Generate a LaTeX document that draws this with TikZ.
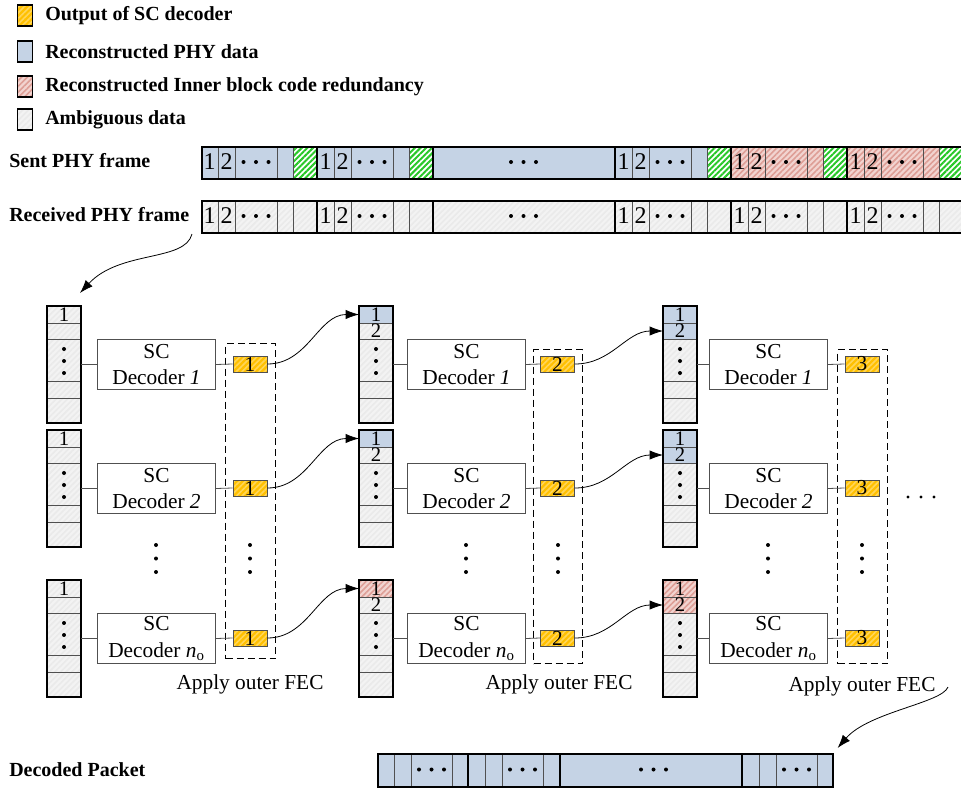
\documentclass[tikz,border=0pt]{standalone}
\usepackage{fontspec}
\setmainfont{Liberation Serif}
\usetikzlibrary{arrows.meta,patterns.meta}
\definecolor{cblue}{RGB}{197,211,229}
\definecolor{cgreen}{RGB}{40,200,40}
\definecolor{credA}{RGB}{242,212,208}
\definecolor{credB}{RGB}{222,158,150}
\definecolor{corA}{RGB}{255,192,0}
\definecolor{corB}{RGB}{255,214,90}
\definecolor{cgrA}{RGB}{243,243,243}
\definecolor{cgrB}{RGB}{234,234,234}
\definecolor{cline}{RGB}{80,80,80}
\tikzset{
  hatch/.style 2 args={preaction={fill=#1}, pattern={Lines[angle=45,distance=3pt,line width=1.2pt]}, pattern color=#2},
  fblue/.style={fill=cblue},
  fgreen/.style={preaction={fill=white}, pattern={Lines[angle=45,distance=3pt,line width=1.5pt]}, pattern color=cgreen},
  fred/.style={hatch={credA}{credB}},
  forange/.style={hatch={corA}{corB}},
  fgray/.style={hatch={cgrA}{cgrB}},
  thinln/.style={draw=cline, line width=0.6pt},
  thickln/.style={draw=black, line width=1.2pt},
  lab/.style={font=\fontsize{15}{18}\selectfont\bfseries, inner sep=0, anchor=west},
  txt/.style={font=\fontsize{16}{20}\selectfont, inner sep=0},
  fnum/.style={font=\fontsize{18}{18}\selectfont, inner sep=0},
  snum/.style={font=\fontsize{15.5}{15.5}\selectfont, inner sep=0},
  legbox/.style={draw=black, line width=1pt, minimum width=11.25pt, minimum height=15.75pt, inner sep=0},
  scell/.style={draw=cline, line width=0.6pt, minimum width=25.5pt, inner sep=0, outer sep=0, anchor=north west},
  deco/.style={draw=cline, line width=0.75pt, minimum width=88.5pt, minimum height=37.5pt, inner sep=0, anchor=north west, align=center, font=\fontsize{16}{20}\selectfont},
  ocell/.style={forange, draw=cline, line width=0.6pt, minimum width=25.5pt, minimum height=12pt, inner sep=0, font=\fontsize{16}{16}\selectfont},
  dbox/.style={draw=black, dash pattern=on 5.25pt off 3pt, line width=0.8pt, minimum width=37.5pt, inner sep=0, anchor=north west},
  conn/.style={draw=cline, line width=0.6pt},
  arr/.style={-{Latex[length=10pt,width=7pt]}, line width=0.6pt},
  dot/.style={fill=black},
}
\newcommand\phygrp[6]{%
  \path[#4] (#1,#2) rectangle (#1+92,#3);
  \path[#5] (#1+92,#2) rectangle (#1+116,#3);
  \foreach \o in {17,34,76,92} {\draw[thinln] (#1+\o,#2) -- (#1+\o,#3);}
  \node[fnum] (#6a) at (#1+8.5,{(#2+#3)/2}) {1};
  \node[fnum] (#6b) at (#1+25.5,{(#2+#3)/2}) {2};
  \foreach \d in {42.5,55,67.5} {\fill[dot] (#1+\d,{(#2+#3)/2}) circle[radius=1.5pt];}
}
\newcommand\pktgrp[1]{%
  \path[fblue] (#1,753) rectangle (#1+91,786);
  \foreach \o in {17,34,75} {\draw[thinln] (#1+\o,753) -- (#1+\o,786);}
  \foreach \d in {42,54.5,67} {\fill[dot] (#1+\d,769.5) circle[radius=1.5pt];}
}
\newcommand\mkstack[6]{%
  \node[scell,#4,minimum height=12.75pt] (#1a) at (#2,#3) {};
  \node[scell,#5,minimum height=12pt] (#1b) at (#2,#3+17) {};
  \node[scell,fgray,minimum height=31.5pt] (#1c) at (#2,#3+33) {};
  \node[scell,fgray,minimum height=12.75pt] (#1d) at (#2,#3+75) {};
  \node[scell,fgray,minimum height=18.75pt] (#1e) at (#2,#3+92) {};
  \draw[thickln] (#1a.north west) rectangle (#1e.south east);
  \node[snum] (#1ta) at (#1a.center) {1};
  \node[snum] (#1tb) at (#1b.center) {#6};
  \foreach \d in {43,55,67} {\fill[dot] (#2+17,#3+\d) circle[radius=1.5pt];}
}
\begin{document}
\begin{tikzpicture}[x=0.75pt,y=-0.75pt]
\useasboundingbox (0,0) rectangle (961,789);

% legend
\node[legbox,forange] (lg1) at (25,15.5) {};
\node[legbox,fblue]   (lg2) at (25,51.5) {};
\node[legbox,fred]    (lg3) at (25,86.5) {};
\node[legbox,fgray]   (lg4) at (25,119.5) {};
\node[lab] (lt1) at (45,15.5) {Output of SC decoder};
\node[lab] (lt2) at (45,51.5) {Reconstructed PHY data};
\node[lab] (lt3) at (45,86.5) {Reconstructed Inner block code redundancy};
\node[lab] (lt4) at (45,119.5) {Ambiguous data};

% row labels
\node[lab] (lsent) at (9,161) {Sent PHY frame};
\node[lab] (lrecv) at (9,215) {Received PHY frame};
\node[lab] (ldec)  at (9,770) {Decoded Packet};

% sent frame
\phygrp{201}{146}{178}{fblue}{fgreen}{sA}
\phygrp{317}{146}{178}{fblue}{fgreen}{sB}
\path[fblue] (433,146) rectangle (615,178);
\foreach \d in {511,523.5,536} {\fill[dot] (\d,162) circle[radius=1.5pt];}
\phygrp{615}{146}{178}{fblue}{fgreen}{sC}
\phygrp{731}{146}{178}{fred}{fgreen}{sD}
\phygrp{847}{146}{178}{fred}{fgreen}{sE}
\node[thickln, draw, minimum width=571.5pt, minimum height=24pt, inner sep=0, anchor=north west] (sf) at (201,146) {};
\foreach \x in {317,433,615,731,847} {\draw[thickln] (\x,146) -- (\x,178);}

% received frame
\phygrp{201}{200}{232}{fgray}{fgray}{rA}
\phygrp{317}{200}{232}{fgray}{fgray}{rB}
\path[fgray] (433,200) rectangle (615,232);
\foreach \d in {511,523.5,536} {\fill[dot] (\d,216) circle[radius=1.5pt];}
\phygrp{615}{200}{232}{fgray}{fgray}{rC}
\phygrp{731}{200}{232}{fgray}{fgray}{rD}
\phygrp{847}{200}{232}{fgray}{fgray}{rE}
\node[thickln, draw, minimum width=571.5pt, minimum height=24pt, inner sep=0, anchor=north west] (rf) at (201,200) {};
\foreach \x in {317,433,615,731,847} {\draw[thickln] (\x,200) -- (\x,232);}

% stacks
\mkstack{s11}{47}{306}{fgray}{fgray}{}
\mkstack{s12}{47}{430}{fgray}{fgray}{}
\mkstack{s13}{47}{580}{fgray}{fgray}{}
\mkstack{s21}{359}{306}{fblue}{fgray}{2}
\mkstack{s22}{359}{430}{fblue}{fgray}{2}
\mkstack{s23}{359}{580}{fred}{fgray}{2}
\mkstack{s31}{663}{306}{fblue}{fblue}{2}
\mkstack{s32}{663}{430}{fblue}{fblue}{2}
\mkstack{s33}{663}{580}{fred}{fred}{2}

% dashed outer-FEC boxes
\node[dbox, minimum height=236.25pt] (f1) at (225,343) {};
\node[dbox, minimum width=36.75pt, minimum height=235.5pt] (f2) at (533,349) {};
\node[dbox, minimum height=235.5pt] (f3) at (837,349) {};
\node[txt] (af1) at (250,684) {Apply outer FEC};
\node[txt] (af2) at (559,684) {Apply outer FEC};
\node[txt] (af3) at (862,686) {Apply outer FEC};

% decoders and outputs
\foreach \ci/\dx/\ox in {1/97/250,2/407/557.5,3/709/862} {
  \foreach \ri/\yt/\dl in {1/306/\textit{1},2/430/\textit{2},3/580/\textit{n}\textsubscript{o}} {
    \node[deco] (d\ci\ri) at (\dx,\yt+33) {SC\\Decoder \dl};
    \node[ocell] (o\ci\ri) at (\ox,\yt+58) {\ci};
    \draw[conn] (d\ci\ri.west -| s\ci\ri c.east) -- (d\ci\ri.west);
    \draw[conn] (d\ci\ri.east) -- (o\ci\ri.west);
  }
}

% arrows between columns
\foreach \ri in {1,2,3} {
  \draw[arr] (o1\ri.east) to[out=0,in=180] (s2\ri a.west);
  \draw[arr] (o2\ri.east) to[out=0,in=180] (s3\ri b.west);
}

% vertical ellipses between rows
\foreach \x in {156,250,466,558,768,862} {
  \foreach \y in {545,558.5,572} {\fill[dot] (\x,\y) circle[radius=1.5pt];}
}
% right ellipsis
\foreach \x in {908,921,934} {\fill[dot] (\x,497) circle[radius=1.3pt];}

% decoded packet
\pktgrp{377}
\pktgrp{468}
\path[fblue] (560,753) rectangle (742,786);
\foreach \d in {641,653.5,666} {\fill[dot] (\d,769.5) circle[radius=1.5pt];}
\pktgrp{742}
\node[thickln, draw, minimum width=341.25pt, minimum height=24.75pt, inner sep=0, anchor=north west] (dp) at (377,753) {};
\foreach \x in {468,560,742} {\draw[thickln] (\x,753) -- (\x,786);}

% arrows from received frame and to decoded packet
\coordinate (a0) at (192,234);
\draw[arr] (a0) .. controls +(-7,28) and +(40,-43) .. ([shift={(-1,-13)}]s11a.north east);
\coordinate (a2) at (948,687);
\draw[arr] (a2) .. controls +(-6,16) and +(31,-36) .. ([shift={(4,-5)}]dp.north east);
\end{tikzpicture}
\end{document}
